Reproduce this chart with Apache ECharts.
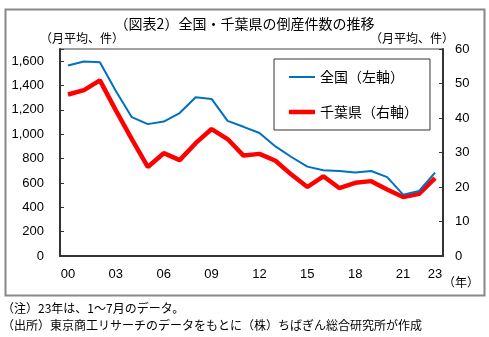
<!DOCTYPE html>
<html>
<head>
<meta charset="utf-8">
<script src="https://cdn.jsdelivr.net/npm/echarts@6/dist/echarts.min.js"></script>
<style>html,body{margin:0;padding:0;background:#fff;}#c{width:489px;height:337px;}</style>
</head>
<body>
<div id="c"></div>
<script>
var years = ['00','01','02','03','04','05','06','07','08','09','10','11','12','13','14','15','16','17','18','19','20','21','22','23'];
var national = [1564,1597,1591,1355,1140,1083,1104,1174,1304,1290,1110,1061,1010,900,813,734,704,698,686,698,648,504,534,685];
var chiba = [46.8,48.1,50.9,42.2,33.9,25.8,29.8,27.8,32.7,36.8,33.9,29.1,29.6,27.6,23.6,20.0,23.1,19.7,21.2,21.7,19.3,17.1,18.0,22.6];
var leftMax = 1700, leftStep = 200;
var rightMax = 60, rightStep = 10;
var labelYears = ['00','03','06','09','12','15','18','21','23'];

var jp = '"Noto Sans CJK JP", sans-serif';
var num = '"Liberation Sans", Arial, sans-serif';
var chart = echarts.init(document.getElementById('c'), null, {renderer: 'canvas'});
chart.setOption({
  animation: false,
  backgroundColor: '#fff',
  title: {
    text: '（図表2）全国・千葉県の倒産件数の推移',
    left: 'center', top: 12,
    textStyle: {fontFamily: jp, fontSize: 14, fontWeight: 'normal', color: '#000'}
  },
  grid: {left: 60, right: 46, top: 49, bottom: 81, show: true, borderColor: '#444', borderWidth: 1},
  legend: {
    orient: 'vertical', left: 274, top: 59,
    padding: [11, 12, 11, 15], itemGap: 21, itemWidth: 26, itemHeight: 14,
    borderColor: '#333', borderWidth: 1, backgroundColor: '#fff',
    textStyle: {fontFamily: jp, fontSize: 14, color: '#000'},
    data: [
      {name: '全国（左軸）', icon: 'path://M0,6 L26,6 L26,8 L0,8 Z', itemStyle: {color: '#0070C0'}},
      {name: '千葉県（右軸）', icon: 'path://M0,5 L26,5 L26,9.5 L0,9.5 Z', itemStyle: {color: '#FF0000'}}
    ]
  },
  xAxis: {
    type: 'category', data: years, boundaryGap: true,
    axisLine: {lineStyle: {color: '#333', width: 2}},
    axisTick: {inside: true, length: 4, interval: 0, lineStyle: {color: '#555'}},
    axisLabel: {
      interval: function (i, v) { return labelYears.indexOf(v) >= 0; },
      fontFamily: num, fontSize: 13, color: '#000', margin: 12
    }
  },
  yAxis: [
    {
      type: 'value', min: 0, max: leftMax, interval: leftStep,
      splitLine: {show: false},
      axisLine: {show: true, lineStyle: {color: '#333', width: 2}},
      axisTick: {show: true, inside: true, length: 4, lineStyle: {color: '#333'}},
      axisLabel: {
        fontFamily: num, fontSize: 13, color: '#000', margin: 16,
        formatter: function (v) { return v % leftStep === 0 ? v.toLocaleString('en-US') : ''; }
      }
    },
    {
      type: 'value', min: 0, max: rightMax, interval: rightStep,
      splitLine: {show: false},
      axisLine: {show: true, lineStyle: {color: '#333', width: 2}},
      axisTick: {show: true, inside: true, length: 4, lineStyle: {color: '#333'}},
      axisLabel: {fontFamily: num, fontSize: 13, color: '#000', margin: 12}
    }
  ],
  series: [
    {
      name: '全国（左軸）', type: 'line', yAxisIndex: 0, data: national,
      symbol: 'none', lineStyle: {color: '#0070C0', width: 2}, itemStyle: {color: '#0070C0'}, z: 3
    },
    {
      name: '千葉県（右軸）', type: 'line', yAxisIndex: 1, data: chiba,
      symbol: 'none', lineStyle: {color: '#FF0000', width: 4.5}, itemStyle: {color: '#FF0000'}, z: 2
    }
  ],
  graphic: [
    {type: 'rect', left: 3, top: 7, shape: {x: 0, y: 0, width: 479, height: 286}, style: {fill: null, stroke: '#888', lineWidth: 2}, silent: true, z: -10},
    {type: 'text', left: 40, top: 32, style: {text: '（月平均、件）', font: '12px ' + jp, fill: '#000'}},
    {type: 'text', left: 370, top: 32, style: {text: '（月平均、件）', font: '12px ' + jp, fill: '#000'}},
    {type: 'text', left: 443, top: 276, style: {text: '（年）', font: '12px ' + jp, fill: '#000'}},
    {type: 'text', left: 2, top: 302, style: {text: '（注）23年は、1～7月のデータ。', font: '12px ' + jp, fill: '#000'}},
    {type: 'text', left: 2, top: 319, style: {text: '（出所）東京商工リサーチのデータをもとに（株）ちばぎん総合研究所が作成', font: '12px ' + jp, fill: '#000'}}
  ]
});
</script>
</body>
</html>
